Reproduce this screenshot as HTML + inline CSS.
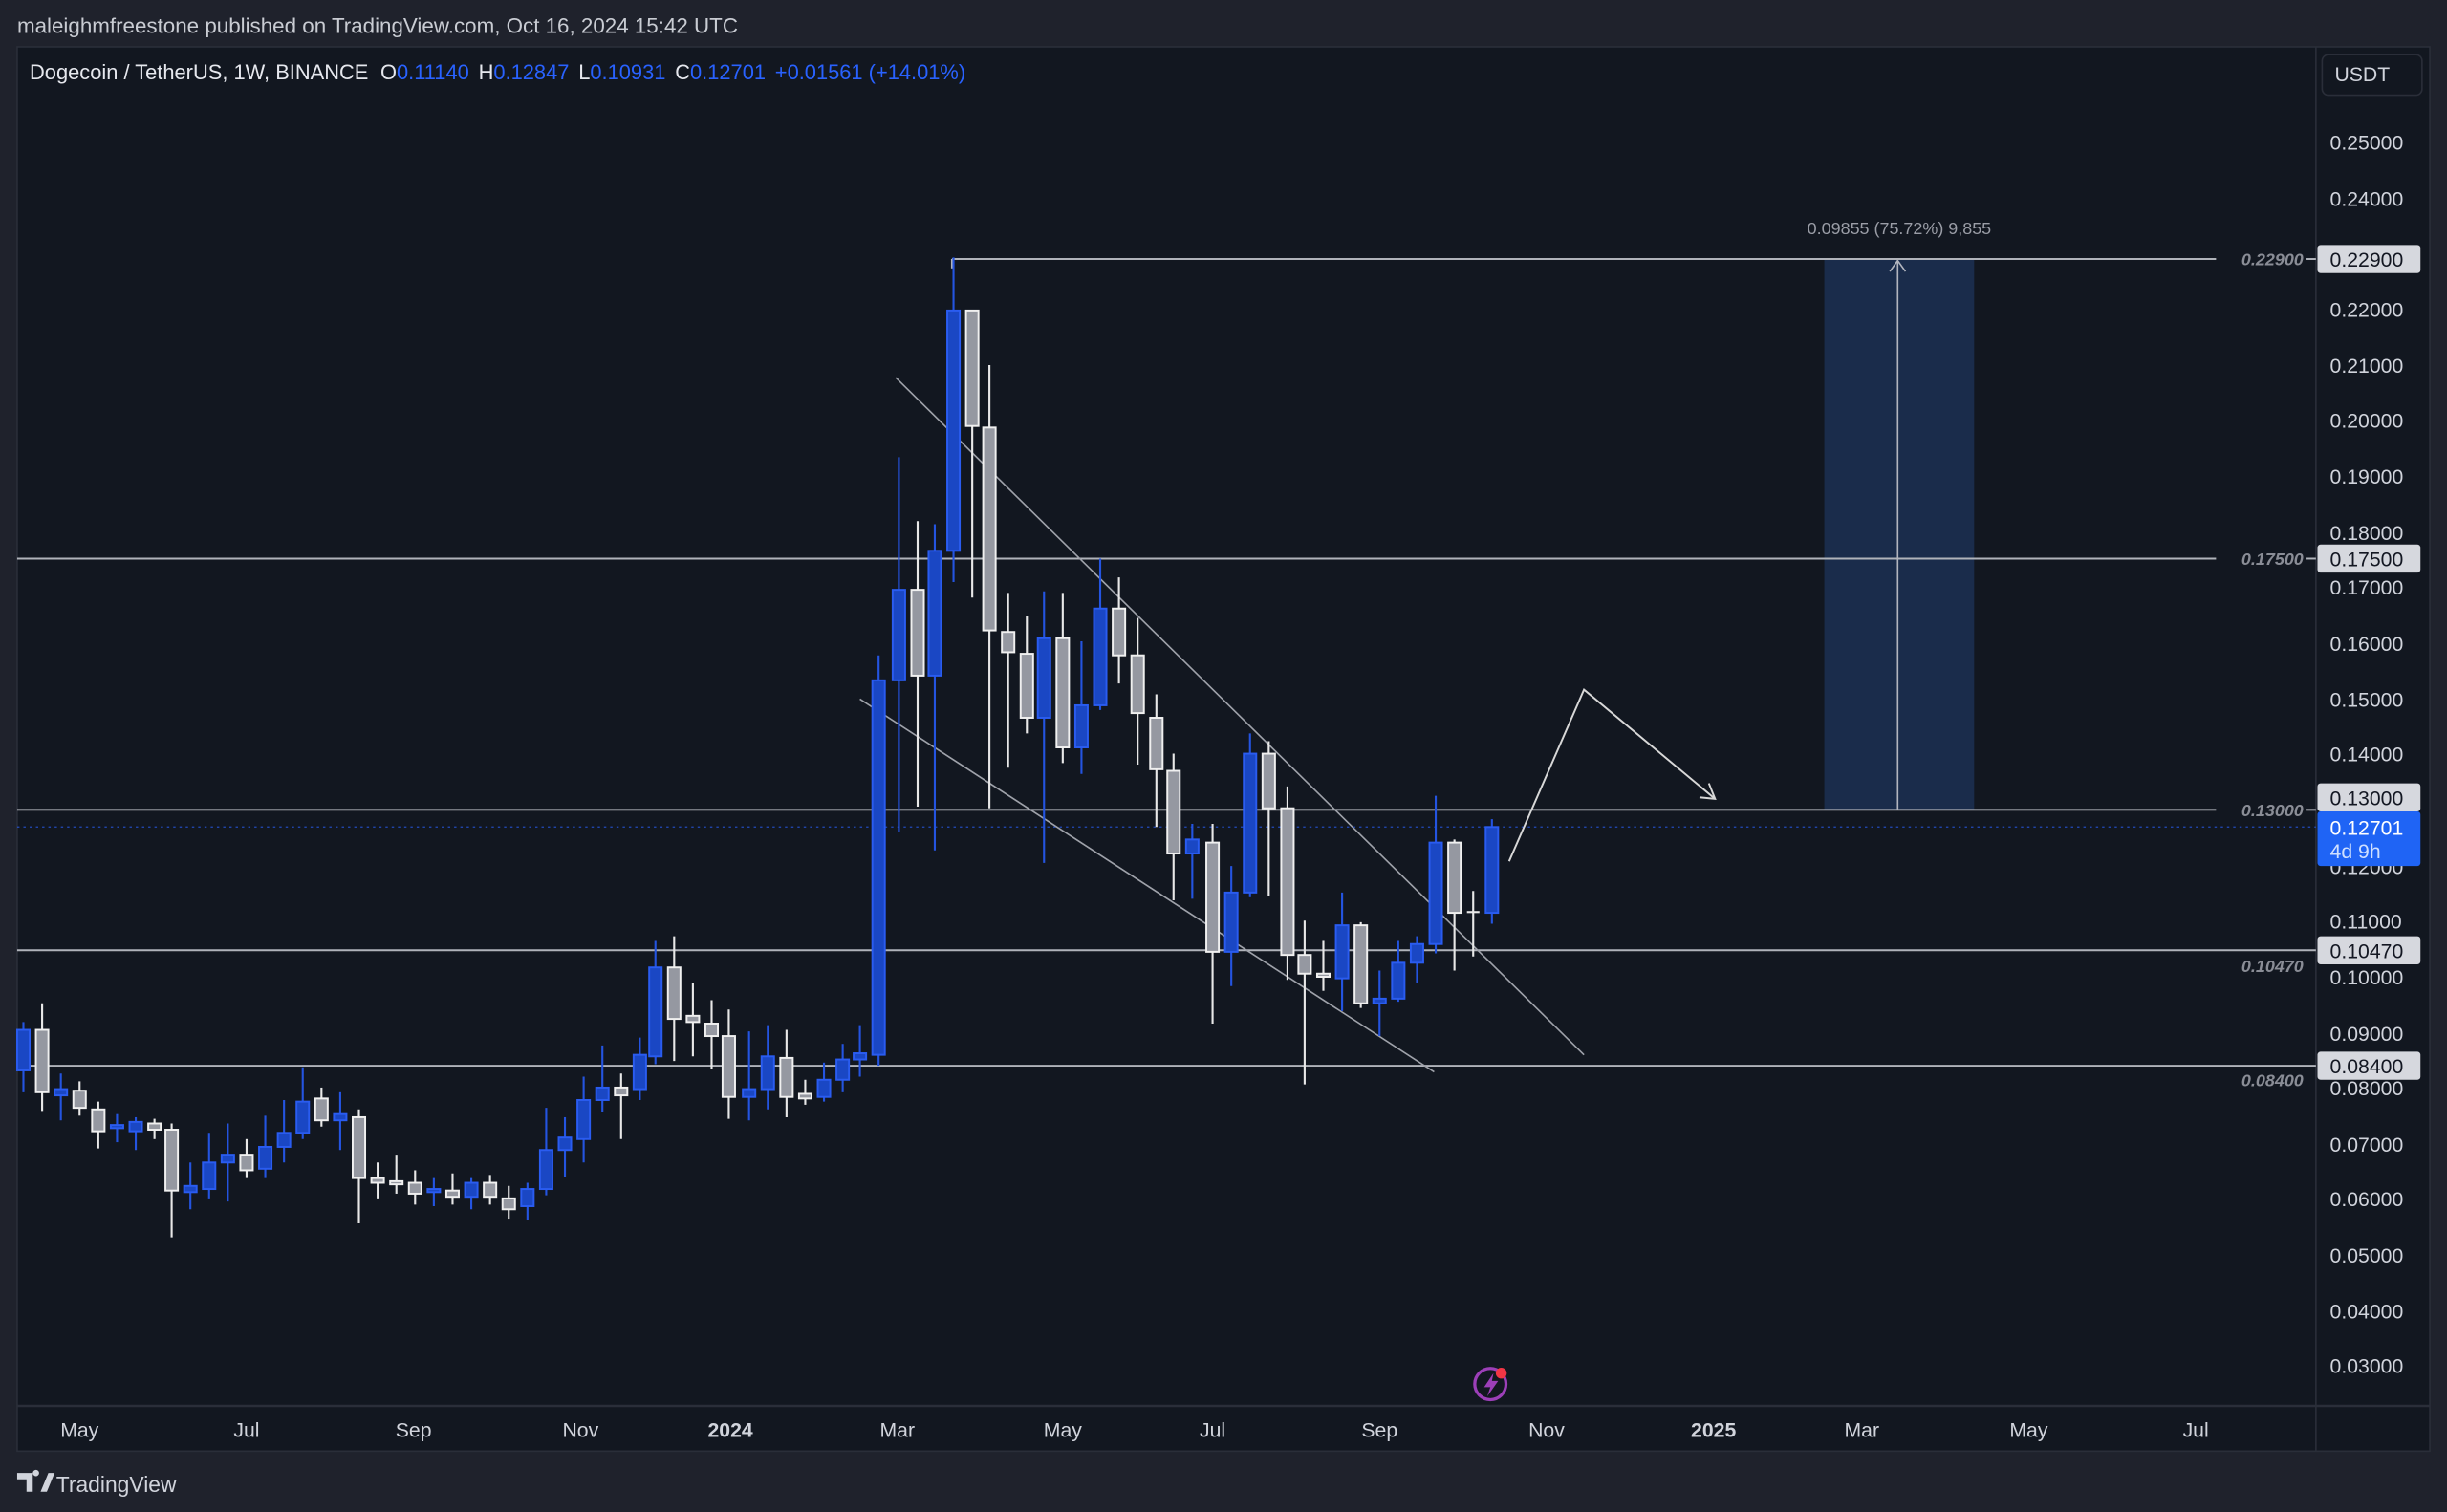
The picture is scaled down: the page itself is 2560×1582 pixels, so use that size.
<!DOCTYPE html>
<html><head><meta charset="utf-8"><style>
html,body{margin:0;padding:0;background:#1f222c;width:2560px;height:1582px;overflow:hidden}
svg{display:block}
.b{fill:#1a47c4;stroke:#2a5cf0;stroke-width:1.2}
.w{fill:#9598a1;stroke:#f0f0f0;stroke-width:1.2}
.bw{stroke:#2454e0;stroke-width:1.3}
.ww{stroke:#e8e8e8;stroke-width:1.3}
text{font-family:"Liberation Sans",sans-serif}
.ax{fill:#d1d4dc;font-size:13px}
.pl{fill:#8a8d96;font-size:11px;font-style:italic;font-weight:bold}
</style></head><body>
<svg width="2560" height="1582" viewBox="0 0 1568 969" preserveAspectRatio="none">
<rect width="1568" height="969" fill="#1f222c"/>
<text x="11" y="21" fill="#c9ccd3" font-size="13.7">maleighmfreestone published on TradingView.com, Oct 16, 2024 15:42 UTC</text>
<rect x="11" y="30" width="1546" height="900" fill="#121720" stroke="#2a2e39" stroke-width="1"/>
<line x1="1484" y1="30" x2="1484" y2="930" stroke="#2a2e39"/>
<line x1="11" y1="901" x2="1557" y2="901" stroke="#2a2e39" stroke-width="1.5"/>
<text x="19" y="51" fill="#e6e8ee" font-size="13.4">Dogecoin / TetherUS, 1W, BINANCE <tspan dx="4">O</tspan><tspan fill="#2962ff">0.11140</tspan><tspan dx="6">H</tspan><tspan fill="#2962ff">0.12847</tspan><tspan dx="6">L</tspan><tspan fill="#2962ff">0.10931</tspan><tspan dx="6">C</tspan><tspan fill="#2962ff">0.12701</tspan><tspan dx="6" fill="#2962ff">+0.01561 (+14.01%)</tspan></text>
<rect x="1488" y="35" width="64" height="26" rx="4" fill="#121720" stroke="#2a2e39"/>
<text x="1496" y="52" fill="#d1d4dc" font-size="13">USDT</text>

<rect x="1169" y="166" width="96" height="353" fill="#1a2c4b"/>
<line x1="1216" y1="519" x2="1216" y2="167" stroke="#b2b5be" stroke-width="1"/>
<polyline points="1211,174 1216,167 1221,174" fill="none" stroke="#b2b5be"/>
<text x="1217" y="150" fill="#9a9da6" font-size="11" text-anchor="middle">0.09855 (75.72%) 9,855</text>

<g stroke="#b0b3ba" stroke-width="1.2">
<line x1="610" y1="166" x2="1420" y2="166"/>
<line x1="11" y1="358" x2="1420" y2="358"/>
<line x1="11" y1="519" x2="1420" y2="519"/>
<line x1="11" y1="609" x2="1484" y2="609"/>
<line x1="11" y1="683" x2="1484" y2="683"/>
<line x1="610" y1="166" x2="610" y2="172"/>
<line x1="1478" y1="166" x2="1484" y2="166"/><line x1="1478" y1="358" x2="1484" y2="358"/><line x1="1478" y1="519" x2="1484" y2="519"/>
</g>
<line x1="11" y1="530" x2="1484" y2="530" stroke="#2962ff" stroke-width="0.8" stroke-dasharray="1.5,2.5" opacity="0.7"/>
<text class="pl" x="1476" y="170" text-anchor="end">0.22900</text>
<text class="pl" x="1476" y="362" text-anchor="end">0.17500</text>
<text class="pl" x="1476" y="523" text-anchor="end">0.13000</text>
<text class="pl" x="1476" y="623" text-anchor="end">0.10470</text>
<text class="pl" x="1476" y="696" text-anchor="end">0.08400</text>

<g stroke="#9fa2aa" stroke-width="1">
<line x1="574" y1="242" x2="1015" y2="676"/>
<line x1="551" y1="448" x2="919" y2="687"/>
</g>
<polyline points="967,552 1015,442 1099,512" fill="none" stroke="#d8d8d8" stroke-width="1.2"/>
<polyline points="1089,511 1099,512 1095,502" fill="none" stroke="#d8d8d8" stroke-width="1.2"/>

<g>
<line class="bw" x1="15" y1="655" x2="15" y2="700"/><rect class="b" x="11" y="660" width="8" height="26"/>
<line class="ww" x1="27" y1="643" x2="27" y2="712"/><rect class="w" x="23" y="660" width="8" height="40"/>
<line class="bw" x1="39" y1="688" x2="39" y2="718"/><rect class="b" x="35" y="698" width="8" height="4"/>
<line class="ww" x1="51" y1="693" x2="51" y2="715"/><rect class="w" x="47" y="699" width="8" height="11"/>
<line class="ww" x1="63" y1="706" x2="63" y2="736"/><rect class="w" x="59" y="711" width="8" height="14"/>
<line class="bw" x1="75" y1="714" x2="75" y2="732"/><rect class="b" x="71" y="721" width="8" height="2"/>
<line class="bw" x1="87" y1="716" x2="87" y2="737"/><rect class="b" x="83" y="719" width="8" height="6"/>
<line class="ww" x1="99" y1="717" x2="99" y2="730"/><rect class="w" x="95" y="720" width="8" height="4"/>
<line class="ww" x1="110" y1="720" x2="110" y2="793"/><rect class="w" x="106" y="724" width="8" height="39"/>
<line class="bw" x1="122" y1="745" x2="122" y2="775"/><rect class="b" x="118" y="760" width="8" height="4"/>
<line class="bw" x1="134" y1="726" x2="134" y2="768"/><rect class="b" x="130" y="745" width="8" height="17"/>
<line class="bw" x1="146" y1="720" x2="146" y2="770"/><rect class="b" x="142" y="740" width="8" height="5"/>
<line class="ww" x1="158" y1="730" x2="158" y2="755"/><rect class="w" x="154" y="740" width="8" height="10"/>
<line class="bw" x1="170" y1="715" x2="170" y2="755"/><rect class="b" x="166" y="735" width="8" height="14"/>
<line class="bw" x1="182" y1="705" x2="182" y2="745"/><rect class="b" x="178" y="726" width="8" height="9"/>
<line class="bw" x1="194" y1="684" x2="194" y2="730"/><rect class="b" x="190" y="706" width="8" height="20"/>
<line class="ww" x1="206" y1="697" x2="206" y2="722"/><rect class="w" x="202" y="704" width="8" height="14"/>
<line class="bw" x1="218" y1="700" x2="218" y2="737"/><rect class="b" x="214" y="714" width="8" height="4"/>
<line class="ww" x1="230" y1="711" x2="230" y2="784"/><rect class="w" x="226" y="716" width="8" height="39"/>
<line class="ww" x1="242" y1="745" x2="242" y2="768"/><rect class="w" x="238" y="755" width="8" height="3"/>
<line class="ww" x1="254" y1="740" x2="254" y2="765"/><rect class="w" x="250" y="757" width="8" height="2"/>
<line class="ww" x1="266" y1="750" x2="266" y2="772"/><rect class="w" x="262" y="758" width="8" height="7"/>
<line class="bw" x1="278" y1="755" x2="278" y2="773"/><rect class="b" x="274" y="762" width="8" height="2"/>
<line class="ww" x1="290" y1="752" x2="290" y2="772"/><rect class="w" x="286" y="763" width="8" height="4"/>
<line class="bw" x1="302" y1="755" x2="302" y2="775"/><rect class="b" x="298" y="758" width="8" height="9"/>
<line class="ww" x1="314" y1="753" x2="314" y2="772"/><rect class="w" x="310" y="758" width="8" height="9"/>
<line class="ww" x1="326" y1="760" x2="326" y2="781"/><rect class="w" x="322" y="768" width="8" height="7"/>
<line class="bw" x1="338" y1="758" x2="338" y2="782"/><rect class="b" x="334" y="762" width="8" height="11"/>
<line class="bw" x1="350" y1="710" x2="350" y2="766"/><rect class="b" x="346" y="737" width="8" height="25"/>
<line class="bw" x1="362" y1="716" x2="362" y2="754"/><rect class="b" x="358" y="729" width="8" height="8"/>
<line class="bw" x1="374" y1="690" x2="374" y2="745"/><rect class="b" x="370" y="705" width="8" height="25"/>
<line class="bw" x1="386" y1="670" x2="386" y2="713"/><rect class="b" x="382" y="697" width="8" height="8"/>
<line class="ww" x1="398" y1="688" x2="398" y2="730"/><rect class="w" x="394" y="697" width="8" height="5"/>
<line class="bw" x1="410" y1="665" x2="410" y2="705"/><rect class="b" x="406" y="676" width="8" height="22"/>
<line class="bw" x1="420" y1="603" x2="420" y2="682"/><rect class="b" x="416" y="620" width="8" height="57"/>
<line class="ww" x1="432" y1="600" x2="432" y2="680"/><rect class="w" x="428" y="620" width="8" height="33"/>
<line class="ww" x1="444" y1="630" x2="444" y2="677"/><rect class="w" x="440" y="651" width="8" height="4"/>
<line class="ww" x1="456" y1="641" x2="456" y2="685"/><rect class="w" x="452" y="656" width="8" height="8"/>
<line class="ww" x1="467" y1="647" x2="467" y2="717"/><rect class="w" x="463" y="664" width="8" height="39"/>
<line class="bw" x1="480" y1="661" x2="480" y2="718"/><rect class="b" x="476" y="698" width="8" height="5"/>
<line class="bw" x1="492" y1="657" x2="492" y2="711"/><rect class="b" x="488" y="677" width="8" height="21"/>
<line class="ww" x1="504" y1="660" x2="504" y2="716"/><rect class="w" x="500" y="678" width="8" height="25"/>
<line class="ww" x1="516" y1="692" x2="516" y2="708"/><rect class="w" x="512" y="701" width="8" height="3"/>
<line class="bw" x1="528" y1="681" x2="528" y2="706"/><rect class="b" x="524" y="692" width="8" height="11"/>
<line class="bw" x1="540" y1="669" x2="540" y2="700"/><rect class="b" x="536" y="679" width="8" height="13"/>
<line class="bw" x1="551" y1="657" x2="551" y2="690"/><rect class="b" x="547" y="675" width="8" height="4"/>
<line class="bw" x1="563" y1="420" x2="563" y2="683"/><rect class="b" x="559" y="436" width="8" height="240"/>
<line class="bw" x1="576" y1="293" x2="576" y2="533"/><rect class="b" x="572" y="378" width="8" height="58"/>
<line class="ww" x1="588" y1="334" x2="588" y2="517"/><rect class="w" x="584" y="378" width="8" height="55"/>
<line class="bw" x1="599" y1="336" x2="599" y2="545"/><rect class="b" x="595" y="353" width="8" height="80"/>
<line class="bw" x1="611" y1="165" x2="611" y2="373"/><rect class="b" x="607" y="199" width="8" height="154"/>
<line class="ww" x1="623" y1="199" x2="623" y2="383"/><rect class="w" x="619" y="199" width="8" height="74"/>
<line class="ww" x1="634" y1="234" x2="634" y2="518"/><rect class="w" x="630" y="274" width="8" height="130"/>
<line class="ww" x1="646" y1="380" x2="646" y2="492"/><rect class="w" x="642" y="405" width="8" height="13"/>
<line class="ww" x1="658" y1="395" x2="658" y2="470"/><rect class="w" x="654" y="419" width="8" height="41"/>
<line class="bw" x1="669" y1="379" x2="669" y2="553"/><rect class="b" x="665" y="409" width="8" height="51"/>
<line class="ww" x1="681" y1="380" x2="681" y2="489"/><rect class="w" x="677" y="409" width="8" height="70"/>
<line class="bw" x1="693" y1="411" x2="693" y2="496"/><rect class="b" x="689" y="452" width="8" height="27"/>
<line class="bw" x1="705" y1="358" x2="705" y2="455"/><rect class="b" x="701" y="390" width="8" height="62"/>
<line class="ww" x1="717" y1="370" x2="717" y2="438"/><rect class="w" x="713" y="390" width="8" height="30"/>
<line class="ww" x1="729" y1="396" x2="729" y2="490"/><rect class="w" x="725" y="420" width="8" height="37"/>
<line class="ww" x1="741" y1="445" x2="741" y2="530"/><rect class="w" x="737" y="460" width="8" height="33"/>
<line class="ww" x1="752" y1="483" x2="752" y2="577"/><rect class="w" x="748" y="494" width="8" height="53"/>
<line class="bw" x1="764" y1="528" x2="764" y2="576"/><rect class="b" x="760" y="538" width="8" height="9"/>
<line class="ww" x1="777" y1="528" x2="777" y2="656"/><rect class="w" x="773" y="540" width="8" height="70"/>
<line class="bw" x1="789" y1="555" x2="789" y2="632"/><rect class="b" x="785" y="572" width="8" height="38"/>
<line class="bw" x1="801" y1="470" x2="801" y2="575"/><rect class="b" x="797" y="483" width="8" height="89"/>
<line class="ww" x1="813" y1="475" x2="813" y2="574"/><rect class="w" x="809" y="483" width="8" height="35"/>
<line class="ww" x1="825" y1="504" x2="825" y2="628"/><rect class="w" x="821" y="518" width="8" height="94"/>
<line class="ww" x1="836" y1="590" x2="836" y2="695"/><rect class="w" x="832" y="612" width="8" height="12"/>
<line class="ww" x1="848" y1="603" x2="848" y2="635"/><rect class="w" x="844" y="624" width="8" height="2"/>
<line class="bw" x1="860" y1="572" x2="860" y2="648"/><rect class="b" x="856" y="593" width="8" height="34"/>
<line class="ww" x1="872" y1="591" x2="872" y2="646"/><rect class="w" x="868" y="593" width="8" height="50"/>
<line class="bw" x1="884" y1="622" x2="884" y2="664"/><rect class="b" x="880" y="640" width="8" height="3"/>
<line class="bw" x1="896" y1="603" x2="896" y2="642"/><rect class="b" x="892" y="617" width="8" height="23"/>
<line class="bw" x1="908" y1="600" x2="908" y2="630"/><rect class="b" x="904" y="605" width="8" height="12"/>
<line class="bw" x1="920" y1="510" x2="920" y2="611"/><rect class="b" x="916" y="540" width="8" height="65"/>
<line class="ww" x1="932" y1="538" x2="932" y2="622"/><rect class="w" x="928" y="540" width="8" height="45"/>
<line class="ww" x1="944" y1="571" x2="944" y2="613"/><line class="ww" x1="940" y1="584.5" x2="948" y2="584.5"/>
<line class="bw" x1="956" y1="525" x2="956" y2="592"/><rect class="b" x="952" y="530" width="8" height="55"/>
</g>

<g class="ax" text-anchor="start">
<text x="1493" y="96">0.25000</text><text x="1493" y="132">0.24000</text>
<text x="1493" y="203">0.22000</text><text x="1493" y="239">0.21000</text><text x="1493" y="274">0.20000</text>
<text x="1493" y="310">0.19000</text><text x="1493" y="346">0.18000</text><text x="1493" y="381">0.17000</text>
<text x="1493" y="417">0.16000</text><text x="1493" y="453">0.15000</text><text x="1493" y="488">0.14000</text>
<text x="1493" y="560">0.12000</text><text x="1493" y="595">0.11000</text><text x="1493" y="631">0.10000</text>
<text x="1493" y="667">0.09000</text><text x="1493" y="702">0.08000</text><text x="1493" y="738">0.07000</text>
<text x="1493" y="773">0.06000</text><text x="1493" y="809">0.05000</text><text x="1493" y="845">0.04000</text>
<text x="1493" y="880">0.03000</text>
</g>
<g font-size="13">
<rect x="1485" y="157" width="66" height="18" rx="2" fill="#d6d8de"/><text x="1493" y="171" fill="#131722">0.22900</text>
<rect x="1485" y="349" width="66" height="18" rx="2" fill="#d6d8de"/><text x="1493" y="363" fill="#131722">0.17500</text>
<rect x="1485" y="502" width="66" height="18" rx="2" fill="#d6d8de"/><text x="1493" y="516" fill="#131722">0.13000</text>
<rect x="1485" y="520" width="66" height="35" rx="2" fill="#1f64f5"/><text x="1493" y="535" fill="#fff">0.12701</text><text x="1493" y="550" fill="#cfe0ff">4d 9h</text>
<rect x="1485" y="600" width="66" height="18" rx="2" fill="#d6d8de"/><text x="1493" y="614" fill="#131722">0.10470</text>
<rect x="1485" y="674" width="66" height="18" rx="2" fill="#d6d8de"/><text x="1493" y="688" fill="#131722">0.08400</text>
</g>

<g class="ax" text-anchor="middle">
<text x="51" y="921">May</text><text x="158" y="921">Jul</text><text x="265" y="921">Sep</text><text x="372" y="921">Nov</text>
<text x="468" y="921" font-weight="bold">2024</text><text x="575" y="921">Mar</text><text x="681" y="921">May</text>
<text x="777" y="921">Jul</text><text x="884" y="921">Sep</text><text x="991" y="921">Nov</text>
<text x="1098" y="921" font-weight="bold">2025</text><text x="1193" y="921">Mar</text><text x="1300" y="921">May</text><text x="1407" y="921">Jul</text>
</g>

<circle cx="955" cy="887" r="10" fill="none" stroke="#9c3fb8" stroke-width="2"/>
<path d="M957,880 L951,889 L955,889 L953,895 L960,885 L956,885 Z" fill="#9c3fb8"/>
<circle cx="962" cy="880" r="3.5" fill="#f23645"/>

<path d="M11,944 h10 v12 h-4 v-8 h-6 z M23,946 a2,2 0 1 1 0.1,0 z M26,956 l5,-12 h4 l-5,12 z" fill="#d1d4dc"/>
<text x="36" y="956" fill="#d1d4dc" font-size="14">TradingView</text>
</svg>
</body></html>
